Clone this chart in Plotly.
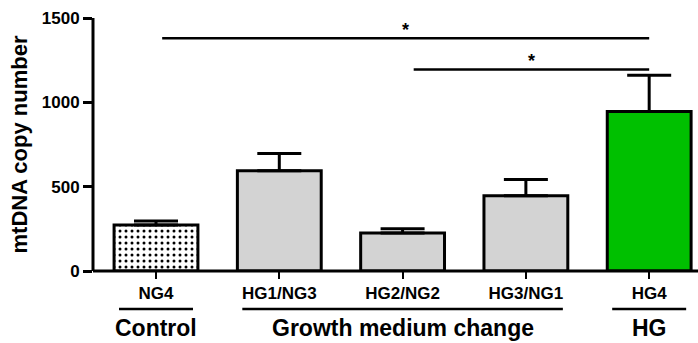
import plotly.graph_objects as go

categories = ["NG4", "HG1/NG3", "HG2/NG2", "HG3/NG1", "HG4"]
means = [272, 595, 226, 446, 946]
errors = [24, 101, 24, 96, 215]
fill_colors = ["white", "#d3d3d3", "#d3d3d3", "#d3d3d3", "#00c000"]
dotted = [True, False, False, False, False]

groups = ["Control", "Growth medium change", "HG"]
group_start = [0, 1, 4]
group_end = [0, 3, 4]

sig_from = [0.05, 2.09]
sig_to = [4, 4]
sig_level = [1380, 1195]
sig_text = ["*", "*"]

y_ticks = [0, 500, 1000, 1500]

FONT = "Arial, Liberation Sans, Helvetica, sans-serif"

fig = go.Figure()
for i, c in enumerate(categories):
    pat = dict(shape=".", fgcolor="black", bgcolor="white", size=6,
               solidity=0.2, fillmode="replace") if dotted[i] else dict(shape="")
    fig.add_trace(go.Bar(
        x=[i],
        y=[means[i]],
        width=0.68,
        marker=dict(color=fill_colors[i], line=dict(color="black", width=3), pattern=pat),
        error_y=dict(type="data", symmetric=False, array=[errors[i]], arrayminus=[0],
                     color="black", thickness=3, width=22),
        showlegend=False,
        name=c,
    ))

shapes = []
annotations = []
# axis lines
shapes.append(dict(type="line", xref="paper", yref="paper", x0=0, x1=0, y0=0, y1=1,
                   line=dict(color="black", width=3)))
shapes.append(dict(type="line", xref="paper", yref="paper", x0=0, x1=1, y0=0, y1=0,
                   line=dict(color="black", width=3)))
# significance bars
for a, b, lvl, t in zip(sig_from, sig_to, sig_level, sig_text):
    shapes.append(dict(type="line", xref="x", yref="y", x0=a, x1=b, y0=lvl, y1=lvl,
                       line=dict(color="black", width=2.5)))
    annotations.append(dict(x=(a + b) / 2, y=lvl, xref="x", yref="y", text="<b>" + t + "</b>",
                            showarrow=False, yanchor="bottom", yshift=-4,
                            font=dict(family=FONT, size=18, color="black")))
# group labels
for g, s, e in zip(groups, group_start, group_end):
    shapes.append(dict(type="line", xref="x", yref="paper", x0=s - 0.3, x1=e + 0.3,
                       y0=-0.15, y1=-0.15, line=dict(color="black", width=2.5)))
    annotations.append(dict(x=(s + e) / 2, y=-0.225, xref="x", yref="paper",
                            text="<b>" + g + "</b>", showarrow=False, yanchor="middle",
                            font=dict(family=FONT, size=23, color="black")))

fig.update_layout(
    width=698, height=343,
    margin=dict(l=93, r=0, t=18, b=72),
    plot_bgcolor="white", paper_bgcolor="white",
    shapes=shapes, annotations=annotations,
    barmode="overlay",
    xaxis=dict(
        range=[-0.511, 4.396],
        tickmode="array", tickvals=list(range(len(categories))),
        ticktext=["<b>" + c + "</b>" for c in categories],
        tickfont=dict(family=FONT, size=17, color="black"),
        showline=False,
        ticks="outside", ticklen=7, tickwidth=2, tickcolor="#000000",
        showgrid=False, zeroline=False, fixedrange=True,
    ),
    yaxis=dict(
        range=[0, 1500],
        tickmode="array", tickvals=y_ticks,
        ticktext=["<b>%d</b>" % v for v in y_ticks],
        tickfont=dict(family=FONT, size=17, color="black"),
        showline=False,
        ticks="outside", ticklen=9, tickwidth=3, tickcolor="#000000",
        showgrid=False, zeroline=False,
        title=dict(text="<b>mtDNA copy number</b>", standoff=8,
                   font=dict(family=FONT, size=22, color="black")),
    ),
)

fig.write_html("out.html")
